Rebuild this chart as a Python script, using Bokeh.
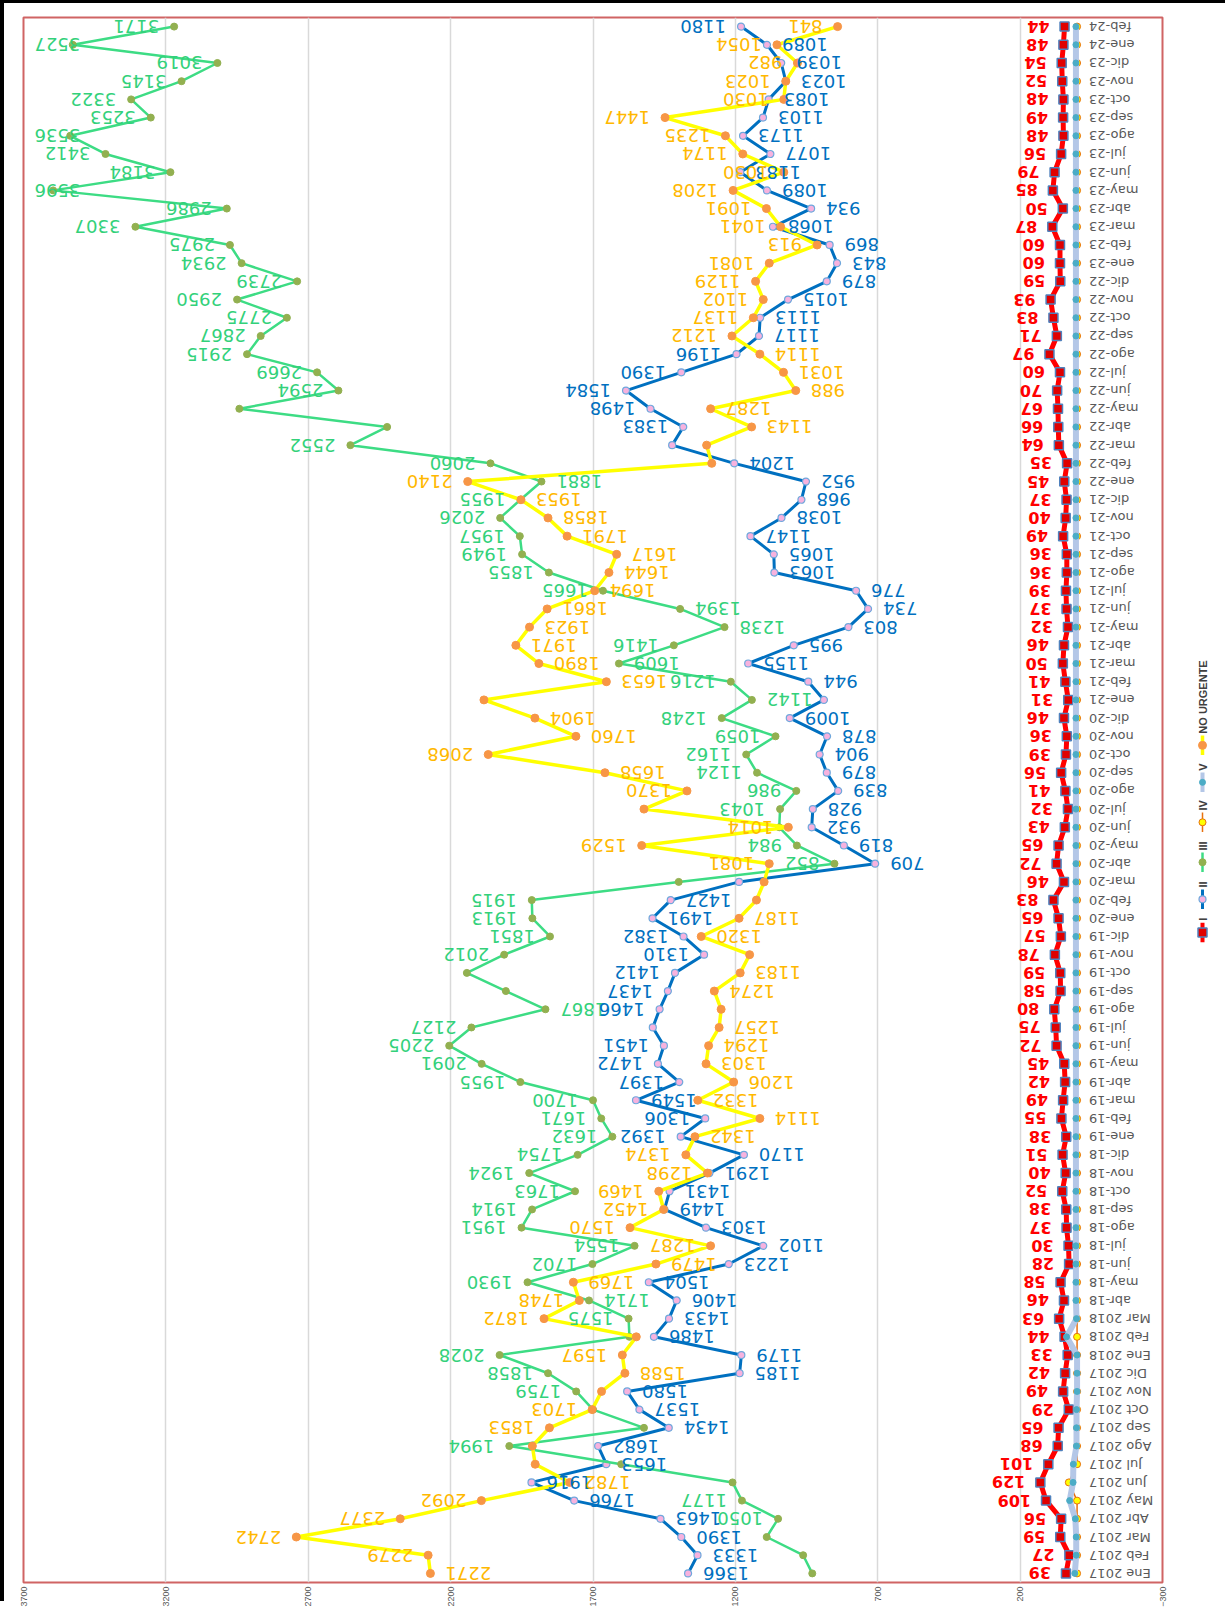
import math
from bokeh.plotting import figure
from bokeh.models import Range1d, FactorRange, FixedTicker, ColumnDataSource, Div
from bokeh.layouts import row, column
from bokeh.embed import file_html
from bokeh.resources import INLINE
from bokeh.core.properties import value

categories = ["Ene 2017", "Feb 2017", "Mar 2017", "Abr 2017", "May 2017", "Jun 2017",
              "Jul 2017", "Ago 2017", "Sep 2017", "Oct 2017", "Nov 2017", "Dic 2017",
              "Ene 2018", "Feb 2018", "Mar 2018", "abr-18", "may-18", "jun-18",
              "jul-18", "ago-18", "sep-18", "oct-18", "nov-18", "dic-18",
              "ene-19", "feb-19", "mar-19", "abr-19", "may-19", "jun-19",
              "jul-19", "ago-19", "sep-19", "oct-19", "nov-19", "dic-19",
              "ene-20", "feb-20", "mar-20", "abr-20", "may-20", "jun-20",
              "jul-20", "ago-20", "sep-20", "oct-20", "nov-20", "dic-20",
              "ene-21", "feb-21", "mar-21", "abr-21", "may-21", "jun-21",
              "jul-21", "ago-21", "sep-21", "oct-21", "nov-21", "dic-21",
              "ene-22", "feb-22", "mar-22", "abr-22", "may-22", "jun-22",
              "jul-22", "ago-22", "sep-22", "oct-22", "nov-22", "dic-22",
              "ene-23", "feb-23", "mar-23", "abr-23", "may-23", "jun-23",
              "jul-23", "ago-23", "sep-23", "oct-23", "nov-23", "dic-23",
              "ene-24", "feb-24"]

series_names = ["I", "II", "III", "IV", "V", "NO URGENTE"]

s_I = [39, 27, 59, 56, 109, 129, 101, 68, 65, 29, 49, 42,
       33, 44, 63, 46, 58, 28, 30, 37, 38, 52, 40, 51,
       38, 55, 49, 42, 45, 72, 75, 80, 58, 59, 78, 57,
       65, 83, 46, 72, 65, 43, 32, 41, 56, 39, 36, 46,
       31, 41, 50, 46, 32, 37, 39, 36, 36, 49, 40, 37,
       45, 35, 64, 66, 67, 70, 60, 97, 71, 83, 93, 59,
       60, 60, 87, 50, 85, 79, 56, 48, 49, 48, 52, 54,
       48, 44]

s_II = [1366, 1333, 1390, 1463, 1766, 1916, 1653, 1682, 1434, 1537, 1580, 1185,
        1179, 1486, 1433, 1406, 1504, 1223, 1102, 1303, 1449, 1431, 1291, 1170,
        1392, 1306, 1549, 1397, 1472, 1451, 1490, 1466, 1437, 1412, 1310, 1382,
        1491, 1427, 1187, 709, 819, 932, 928, 839, 879, 904, 878, 1009,
        889, 944, 1155, 995, 803, 734, 776, 1063, 1065, 1147, 1038, 968,
        952, 1204, 1422, 1383, 1498, 1584, 1390, 1196, 1117, 1113, 1015, 879,
        843, 869, 1068, 934, 1089, 1183, 1077, 1173, 1103, 1083, 1023, 1039,
        1089, 1180]

s_III = [930, 962, 1090, 1050, 1177, 1210, 1601, 1994, 1521, 1700, 1759, 1858,
         2028, 1572, 1575, 1714, 1930, 1702, 1554, 1951, 1914, 1763, 1924, 1754,
         1632, 1671, 1700, 1955, 2091, 2205, 2127, 1867, 2006, 2143, 2012, 1851,
         1913, 1915, 1399, 852, 984, 1046, 1043, 986, 1124, 1162, 1059, 1248,
         1142, 1216, 1609, 1416, 1238, 1394, 1665, 1855, 1949, 1957, 2026, 1955,
         1881, 2060, 2552, 2423, 2942, 2594, 2669, 2915, 2867, 2775, 2950, 2739,
         2934, 2975, 3307, 2986, 3596, 3184, 3412, 3536, 3253, 3322, 3145, 3019,
         3527, 3171]

s_IV = [0, 0, 0, 0, 0, 29, 0, 0, 0, 0, 0, 0,
        0, 0, 0, 0, 0, 0, 0, 0, 0, 0, 0, 0,
        0, 0, 0, 0, 0, 0, 0, 0, 0, 0, 0, 0,
        0, 0, 0, 0, 0, 0, 0, 0, 0, 0, 0, 0,
        0, 0, 0, 0, 0, 0, 0, 0, 0, 0, 0, 0,
        0, 0, 0, 0, 0, 0, 0, 0, 0, 0, 0, 0,
        0, 0, 0, 0, 0, 0, 0, 0, 0, 0, 0, 0,
        0, 0]

s_V = [8, 3, 3, 6, 26, 14, 13, 2, 2, 2, 0, 0,
       0, 37, 2, 4, 4, 4, 4, 4, 4, 4, 4, 4,
       4, 4, 4, 4, 4, 4, 4, 4, 4, 4, 4, 4,
       4, 4, 4, 4, 4, 4, 4, 4, 4, 4, 4, 4,
       4, 4, 4, 4, 4, 4, 4, 4, 4, 4, 4, 4,
       4, 4, 4, 4, 4, 4, 4, 4, 4, 4, 4, 4,
       4, 4, 4, 4, 4, 4, 4, 4, 4, 4, 4, 4,
       4, 4]

s_NU = [2271, 2279, 2742, 2377, 2092, 1782, 1903, 1913, 1853, 1703, 1670, 1588,
        1597, 1548, 1872, 1748, 1769, 1479, 1287, 1570, 1452, 1469, 1298, 1374,
        1342, 1114, 1332, 1206, 1303, 1294, 1257, 1250, 1274, 1183, 1150, 1320,
        1187, 1126, 1099, 1081, 1529, 1014, 1521, 1370, 1658, 2068, 1760, 1904,
        2083, 1653, 1890, 1971, 1923, 1861, 1694, 1644, 1617, 1791, 1858, 1953,
        2140, 1283, 1301, 1143, 1287, 988, 1031, 1114, 1212, 1137, 1102, 1129,
        1081, 913, 1041, 1091, 1208, 1030, 1174, 1235, 1447, 1030, 1023, 982,
        1054, 841]

value_ticks = [-300, 200, 700, 1200, 1700, 2200, 2700, 3200, 3700]

# ---- label placement styles (L = left of point, R = right, - = no label) ----
side_I = "L" * 86
side_II = ("R" * 24 + "LLRLLL-LLLLLRR-" + "R" * 9 + "-" + "R" * 13 + "-" +
           "L" * 5 + "R" * 17 + "L")
side_III = ("---LL--L--" "LLL-LRLLLL" "LLLLLLLLLL" "LR--LLLL-L" "L-LLLLLLRL"
            "RLRRLLLLLL" "RLL--LLLLL" "LLLLLLLLLL" "LLLLLL")
side_NU = ("RLLLLR--LL" "-RL-LLRRLL" "LLLLRRRRRR" "R-RR-RR--L" "LL-LRLRR-R"
           "RRRRRRRRRR" "L--RRRRRLL" "LLLLLLLLLL" "LLLLLL")

FW, FH = 1139, 1565
X0, X1 = 3700, -300
TOPBAR, LEFTBAR = 3, 4

p = figure(frame_width=FW, frame_height=FH,
           x_range=Range1d(X0, X1), y_range=FactorRange(factors=categories),
           output_backend="svg", toolbar_location=None, y_axis_location=None,
           min_border_left=23 - LEFTBAR, min_border_right=10,
           min_border_top=17 - TOPBAR, min_border_bottom=0)
p.outline_line_color = "#D06464"
p.outline_line_width = 2
p.background_fill_color = "white"
p.border_fill_color = "white"
p.xaxis.ticker = FixedTicker(ticks=value_ticks)
p.xaxis.major_label_orientation = math.pi / 2
p.xaxis.major_label_text_font_size = "9px"
p.xaxis.major_label_text_font = "Liberation Sans"
p.xaxis.major_label_text_color = "#595959"
p.xaxis.major_label_standoff = 4
p.xaxis.major_tick_line_color = None
p.xaxis.major_tick_out = 0
p.xaxis.major_tick_in = 0
p.xaxis.minor_tick_line_color = None
p.xaxis.axis_line_color = None
p.xgrid.grid_line_color = "#D9D9D9"
p.xgrid.grid_line_width = 1.5
p.ygrid.grid_line_color = None

styles = {
    "I": dict(line="#FF0000", lw=5, marker="square", size=9, fill="#E00000", outline="#4F81BD", olw=1.5),
    "II": dict(line="#0070C0", lw=3, marker="circle", size=7, fill="#F7B2DE", outline="#6FA8DC", olw=1.2),
    "III": dict(line="#3DDC84", lw=2.5, marker="circle", size=7, fill="#92B050", outline="#92B050", olw=1),
    "IV": dict(line="#E8700F", lw=1.5, marker="circle", size=7, fill="#FFFF00", outline="#E8700F", olw=1),
    "V": dict(line="#B4C7E7", lw=6, marker="circle", size=6, fill="#4BACC6", outline="#4BACC6", olw=1),
    "NO URGENTE": dict(line="#FFFF00", lw=3.5, marker="circle", size=8, fill="#F79646", outline="#F79646", olw=1),
}
data = {"I": s_I, "II": s_II, "III": s_III, "IV": s_IV, "V": s_V, "NO URGENTE": s_NU}

for name in series_names:
    st = styles[name]
    src = ColumnDataSource(dict(x=data[name], y=categories))
    p.line("x", "y", source=src, line_color=st["line"], line_width=st["lw"], line_join="round")
    p.scatter("x", "y", source=src, marker=st["marker"], size=st["size"],
              fill_color=st["fill"], line_color=st["outline"], line_width=st["olw"])

# category labels next to the zero line
p.text(x=[0] * len(categories), y=categories, text=categories, angle=math.pi,
       text_align="right", text_baseline="middle", x_offset=12,
       text_font=value("DejaVu Sans"), text_font_size="13px", text_color="#595959")

GAP = 15


def add_labels(vals, sides, color, bold=False, size=18, dw=0.636):
    for side in "LR":
        xs, ys, ts, offs = [], [], [], []
        for v, c, s in zip(vals, categories, sides):
            if s != side:
                continue
            rel = (X0 - v) / (X0 - X1) * FW
            w = len(str(v)) * dw * size
            if side == "L":
                off = -GAP
                if rel - GAP - w < 11:
                    off = (11 + w) - rel
            else:
                off = GAP
            xs.append(v); ys.append(c); ts.append(str(v)); offs.append(off)
        if not xs:
            continue
        src = ColumnDataSource(dict(x=xs, y=ys, t=ts, o=offs))
        p.text("x", "y", text="t", source=src, angle=math.pi,
               text_align="left" if side == "L" else "right", text_baseline="middle",
               x_offset="o", text_font=value("DejaVu Sans"), text_font_size=f"{size}px",
               text_font_style="bold" if bold else "normal", text_color=color)


add_labels(s_III, side_III, "#33D17A")
add_labels(s_II, side_II, "#0070C0")
add_labels(s_NU, side_NU, "#FFB800")
add_labels(s_I, side_I, "#FF0000", bold=True, size=16, dw=0.696)

# ---- vertical legend (drawn in its own pixel-space figure) ----
LW_, LH = 45, 1598
leg = figure(width=LW_, height=LH, x_range=Range1d(0, LW_), y_range=Range1d(LH, 0),
             output_backend="svg", toolbar_location=None,
             x_axis_location=None, y_axis_location=None, min_border=0)
leg.outline_line_color = None
leg.grid.visible = False
leg_y = [y - TOPBAR for y in (942, 908, 870, 829, 788, 750)]
lx = 30
for name, yy in zip(series_names, leg_y):
    st = styles[name]
    leg.segment(x0=[lx], y0=[yy + 10], x1=[lx], y1=[yy - 10],
                line_color=st["line"], line_width=min(st["lw"], 4))
    leg.scatter(x=[lx], y=[yy], marker=st["marker"], size=st["size"],
                fill_color=st["fill"], line_color=st["outline"], line_width=st["olw"])
    leg.text(x=[lx], y=[yy - 12], text=[name], angle=math.pi / 2,
             text_align="left", text_baseline="middle",
             text_font=value("Liberation Sans"), text_font_size="11px",
             text_font_style="bold", text_color="#404040")

top_bar = Div(width=1225, height=TOPBAR, margin=0, styles={"background-color": "black"})
left_bar = Div(width=LEFTBAR, height=1598, margin=0, styles={"background-color": "black"})
layout = column(top_bar, row(left_bar, p, leg, spacing=0), spacing=0)
open("out.html", "w").write(file_html(layout, INLINE))
